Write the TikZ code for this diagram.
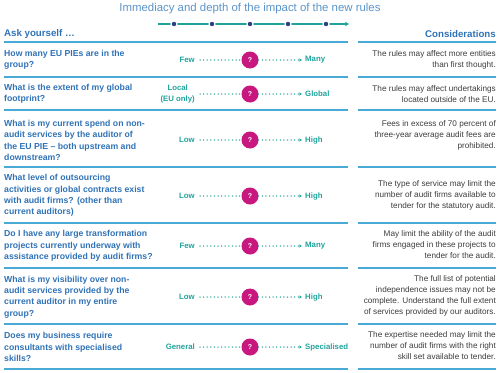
\documentclass[tikz,border=0pt]{standalone}
\usepackage{fontspec}
\setmainfont{Liberation Sans}
\usetikzlibrary{arrows.meta,positioning}

\definecolor{askblue}{HTML}{2F72B6}
\definecolor{rulecyan}{HTML}{4AAAD6}
\definecolor{scaleteal}{HTML}{1FA39C}
\definecolor{dotnavy}{HTML}{2B3F86}
\definecolor{qmagenta}{HTML}{C8177F}
\definecolor{titleblue}{HTML}{5A94C8}
\definecolor{notegrey}{HTML}{3C3C3C}

\begin{document}
\begin{tikzpicture}[
    x=1pt, y=-1pt,
    question/.style={anchor=west, align=left, inner sep=0pt, text=askblue, font=\fontsize{8.7}{11.3}\selectfont\bfseries},
    note/.style={anchor=east, align=right, inner sep=0pt, text=notegrey, font=\fontsize{8.2}{11}\selectfont},
    lowlab/.style={anchor=east, align=center, inner sep=0pt, text=scaleteal, font=\fontsize{7.8}{11}\selectfont\bfseries},
    highlab/.style={anchor=west, inner sep=0pt, text=scaleteal, font=\fontsize{7.8}{11}\selectfont\bfseries},
    qdot/.style={circle, fill=qmagenta, minimum size=17pt, inner sep=0pt, text=white, font=\fontsize{7}{8}\selectfont\bfseries},
    dotline/.style={scaleteal, line width=1.5pt, line cap=round, dash pattern=on 0pt off 3.6pt},
    tipline/.style={dotline, -{Stealth[length=3pt, width=3pt]}},
    sep/.style={rulecyan, line width=1.2pt},
    head/.style={inner sep=0pt, text=askblue, font=\fontsize{9.7}{11}\selectfont\bfseries}
]
\useasboundingbox (0,0) rectangle (500,372);

% title and arrow
\node[text=titleblue, font=\fontsize{11.4}{13}\selectfont, inner sep=0pt] (title) at (250,9) {Immediacy and depth of the impact of the new rules};
\coordinate (arrstart) at (158,24);
\coordinate (arrend) at (349,24);
\draw[scaleteal, line width=1.4pt, -{Stealth[length=4pt, width=4.5pt]}] (arrstart) -- (arrend);
\foreach \xx in {174,212,250,288,326} {
  \fill[white] (\xx,24) circle (3.6pt);
  \fill[dotnavy] (\xx,24) circle (2.2pt);
}

% headings
\node[head, anchor=west] (ask) at (4,34) {Ask yourself \dots};
\node[head, anchor=east] (cons) at (496,34) {Considerations};
\draw[sep] (4,42) -- (348,42);
\draw[sep] (358,42) -- (496,42);

% row 1
\node[question] (q1) at (4,60) {How many EU PIEs are in the\\group?};
\node[lowlab] (lo1) at (195,60) {Few};
\node[qdot] (c1) at (250,60) {?};
\node[highlab] (hi1) at (305,60) {Many};
\node[note] (n1) at (496,60) {The rules may affect more entities\\than first thought.};
\draw[dotline] ([xshift=5pt]lo1.east) -- (c1);
\draw[tipline] (c1) -- ([xshift=-3pt]hi1.west);
\draw[sep] (4,77) -- (348,77);
\draw[sep] (358,77) -- (496,77);

% row 2
\node[question] (q2) at (4,94) {What is the extent of my global\\footprint?};
\node[lowlab] (lo2) at (195,94) {Local\\(EU only)};
\node[qdot] (c2) at (250,94) {?};
\node[highlab] (hi2) at (305,94) {Global};
\node[note] (n2) at (496,94) {The rules may affect undertakings\\located outside of the EU.};
\draw[dotline] ([xshift=5pt]lo2.east) -- (c2);
\draw[tipline] (c2) -- ([xshift=-3pt]hi2.west);
\draw[sep] (4,110) -- (348,110);
\draw[sep] (358,110) -- (496,110);

% row 3
\node[question] (q3) at (4,140.5) {What is my current spend on non-\\audit services by the auditor of\\the EU PIE -- both upstream and\\downstream?};
\node[lowlab] (lo3) at (195,140) {Low};
\node[qdot] (c3) at (250,140) {?};
\node[highlab] (hi3) at (305,140) {High};
\node[note] (n3) at (496,135) {Fees in excess of 70 percent of\\three-year average audit fees are\\prohibited.};
\draw[dotline] ([xshift=5pt]lo3.east) -- (c3);
\draw[tipline] (c3) -- ([xshift=-3pt]hi3.west);
\draw[sep] (4,167) -- (348,167);
\draw[sep] (358,167) -- (496,167);

% row 4
\node[question] (q4) at (4,195.5) {What level of outsourcing\\activities or global contracts exist\\with audit firms? (other than\\current auditors)};
\node[lowlab] (lo4) at (195,196) {Low};
\node[qdot] (c4) at (250,196) {?};
\node[highlab] (hi4) at (305,196) {High};
\node[note] (n4) at (496,195) {The type of service may limit the\\number of audit firms available to\\tender for the statutory audit.};
\draw[dotline] ([xshift=5pt]lo4.east) -- (c4);
\draw[tipline] (c4) -- ([xshift=-3pt]hi4.west);
\draw[sep] (4,223) -- (348,223);
\draw[sep] (358,223) -- (496,223);

% row 5
\node[question] (q5) at (4,246) {Do I have any large transformation\\projects currently underway with\\assistance provided by audit firms?};
\node[lowlab] (lo5) at (195,246) {Few};
\node[qdot] (c5) at (250,246) {?};
\node[highlab] (hi5) at (305,246) {Many};
\node[note] (n5) at (496,245) {May limit the ability of the audit\\firms engaged in these projects to\\tender for the audit.};
\draw[dotline] ([xshift=5pt]lo5.east) -- (c5);
\draw[tipline] (c5) -- ([xshift=-3pt]hi5.west);
\draw[sep] (4,268) -- (348,268);
\draw[sep] (358,268) -- (496,268);

% row 6
\node[question] (q6) at (4,297) {What is my visibility over non-\\audit services provided by the\\current auditor in my entire\\group?};
\node[lowlab] (lo6) at (195,297) {Low};
\node[qdot] (c6) at (250,297) {?};
\node[highlab] (hi6) at (305,297) {High};
\node[note] (n6) at (496,296) {The full list of potential\\independence issues may not be\\complete. Understand the full extent\\of services provided by our auditors.};
\draw[dotline] ([xshift=5pt]lo6.east) -- (c6);
\draw[tipline] (c6) -- ([xshift=-3pt]hi6.west);
\draw[sep] (4,324) -- (348,324);
\draw[sep] (358,324) -- (496,324);

% row 7
\node[question] (q7) at (4,347) {Does my business require\\consultants with specialised\\skills?};
\node[lowlab] (lo7) at (195,347) {General};
\node[qdot] (c7) at (250,347) {?};
\node[highlab] (hi7) at (305,347) {Specialised};
\node[note] (n7) at (496,346) {The expertise needed may limit the\\number of audit firms with the right\\skill set available to tender.};
\draw[dotline] ([xshift=5pt]lo7.east) -- (c7);
\draw[tipline] (c7) -- ([xshift=-3pt]hi7.west);
\draw[sep] (4,369) -- (348,369);
\draw[sep] (358,369) -- (496,369);
\end{tikzpicture}
\end{document}
